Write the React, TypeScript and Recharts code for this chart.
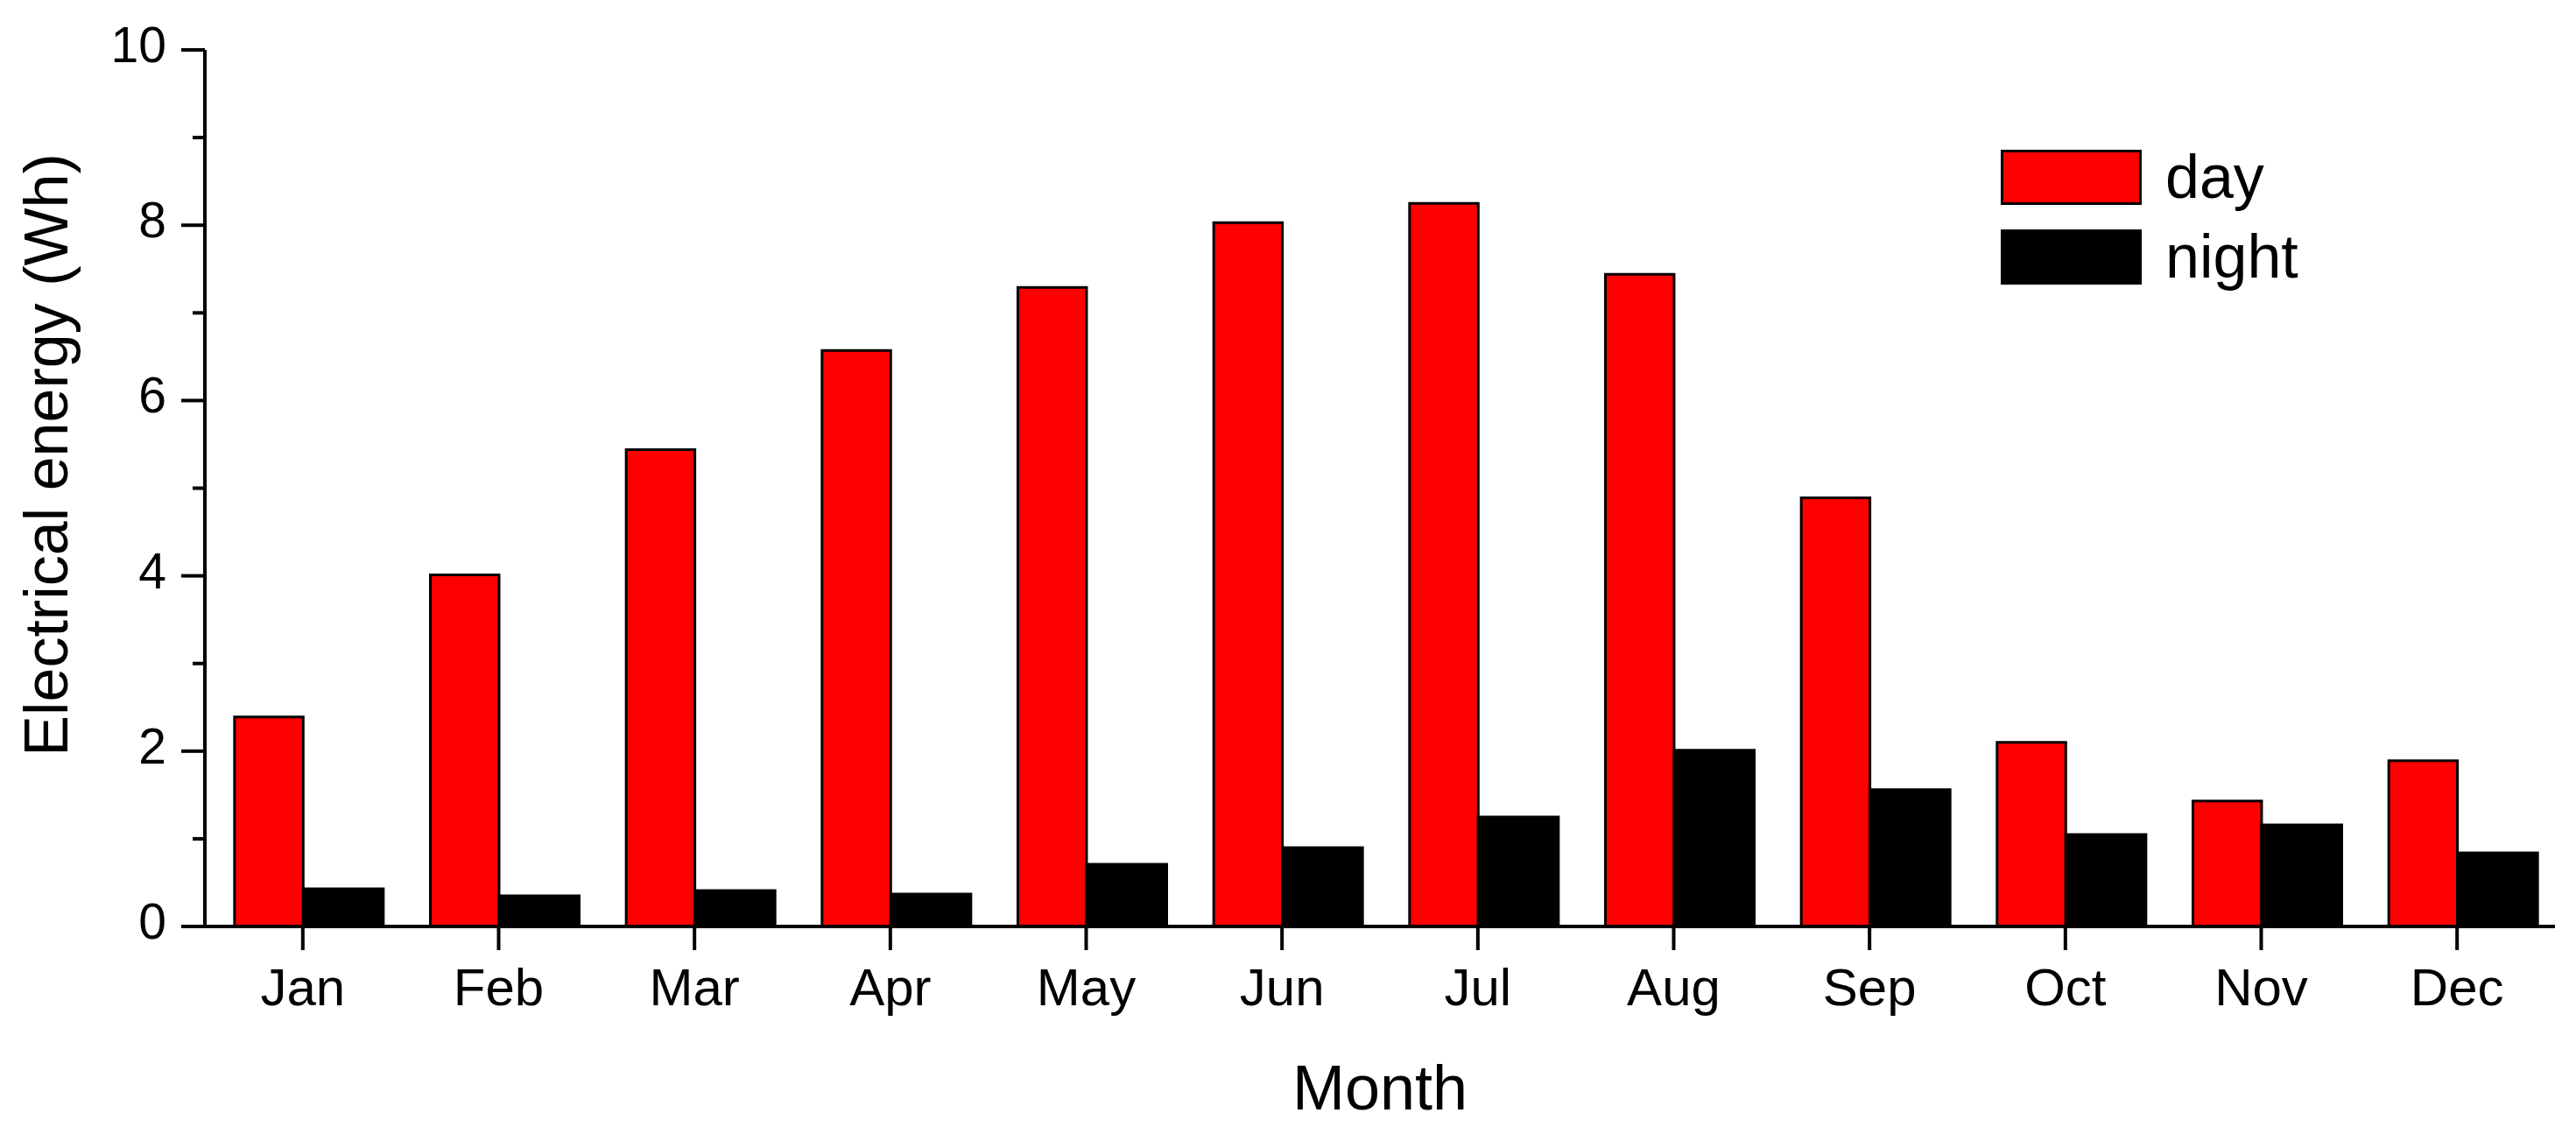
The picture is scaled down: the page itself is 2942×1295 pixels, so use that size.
import React from "react";
import {
  BarChart,
  Bar,
  XAxis,
  YAxis,
  Legend,
  Label,
  Rectangle,
} from "recharts";

const FONT = '"Liberation Sans", Arial, sans-serif';

const MONTHS = ["Jan", "Feb", "Mar", "Apr", "May", "Jun", "Jul", "Aug", "Sep", "Oct", "Nov", "Dec"];
const DAY = [2.39, 4.01, 5.44, 6.57, 7.29, 8.03, 8.25, 7.44, 4.89, 2.1, 1.43, 1.89];
const NIGHT = [0.43, 0.35, 0.41, 0.37, 0.71, 0.9, 1.25, 2.01, 1.56, 1.05, 1.16, 0.84];
const Y_TICKS = [0, 1, 2, 3, 4, 5, 6, 7, 8, 9, 10];

const SERIES_COLORS = { day: "#ff0000", night: "#000000" };

const chartData = MONTHS.map((m, i) => ({ month: m, day: DAY[i], night: NIGHT[i] }));

// the day bars are a bit narrower than the night bars in the original plot
const DAY_SHRINK = 0.077;

function DayShape(props: any) {
  const { x, width } = props;
  const cut = width * DAY_SHRINK;
  return <Rectangle {...props} x={x + cut} width={width - cut} />;
}

function NightShape(props: any) {
  const { width } = props;
  return <Rectangle {...props} width={width * (1 + DAY_SHRINK)} />;
}

function YTick(props: any) {
  const { x, y, payload } = props;
  const major = payload.value % 2 === 0;
  return (
    <g>
      <line x1={x} x2={x - (major ? 27 : 14)} y1={y} y2={y} stroke="#000" strokeWidth={4} />
      {major && (
        <text x={x - 44} y={y + 14} textAnchor="end" fontSize={57} fontFamily={FONT} fill="#000">
          {payload.value}
        </text>
      )}
    </g>
  );
}

function XTick(props: any) {
  const { x, y, payload } = props;
  return (
    <g>
      <line x1={x} x2={x} y1={y} y2={y + 27} stroke="#000" strokeWidth={4} />
      <text x={x} y={y + 90} textAnchor="middle" fontSize={60} fontFamily={FONT} fill="#000">
        {payload.value}
      </text>
    </g>
  );
}

function LegendBox(props: any) {
  const { payload } = props;
  return (
    <div style={{ display: "flex", flexDirection: "column", gap: 28 }}>
      {(payload || []).map((item: any) => (
        <div key={item.value} style={{ display: "flex", alignItems: "flex-start", height: 63 }}>
          <div
            style={{
              width: 161,
              height: 63,
              background: item.color,
              border: "3px solid #000",
              boxSizing: "border-box",
            }}
          />
          <span
            style={{
              marginLeft: 27,
              fontSize: 70,
              lineHeight: "63px",
              fontFamily: FONT,
              color: "#000",
            }}
          >
            {item.value}
          </span>
        </div>
      ))}
    </div>
  );
}

export default function App() {
  return (
    <div style={{ width: 2942, height: 1295, background: "#fff" }}>
      <style>{`body{margin:0;background:#fff;}`}</style>
      <BarChart
        width={2942}
        height={1295}
        data={chartData}
        margin={{ top: 57, right: 24, bottom: 0, left: 84 }}
        barCategoryGap="12.2%"
        barGap={0}
      >
        <XAxis
          dataKey="month"
          height={237}
          axisLine={{ stroke: "#000", strokeWidth: 4 }}
          tickLine={false}
          tickSize={0}
          tickMargin={0}
          tick={<XTick />}
          interval={0}
        >
          <Label
            content={(p: any) => {
              const vb = p.viewBox;
              return (
                <text
                  x={vb.x + vb.width / 2}
                  y={vb.y + 209}
                  textAnchor="middle"
                  fontSize={72}
                  fontFamily={FONT}
                  fill="#000"
                >
                  Month
                </text>
              );
            }}
          />
        </XAxis>
        <YAxis
          width={150}
          domain={[0, 10]}
          ticks={Y_TICKS}
          interval={0}
          axisLine={{ stroke: "#000", strokeWidth: 4 }}
          tickLine={false}
          tickSize={0}
          tickMargin={0}
          tick={<YTick />}
        >
          <Label
            content={(p: any) => {
              const vb = p.viewBox;
              const cx = 77;
              const cy = vb.y + vb.height / 2 - 38;
              return (
                <text
                  x={cx}
                  y={cy}
                  transform={`rotate(-90, ${cx}, ${cy})`}
                  textAnchor="middle"
                  fontSize={70}
                  fontFamily={FONT}
                  fill="#000"
                >
                  Electrical energy (Wh)
                </text>
              );
            }}
          />
        </YAxis>
        <Legend
          layout="vertical"
          align="center"
          verticalAlign="middle"
          content={<LegendBox />}
          wrapperStyle={{ top: 171, left: 2285, width: 400, height: 160 }}
        />
        <Bar
          dataKey="day"
          name="day"
          fill={SERIES_COLORS.day}
          stroke="#000"
          strokeWidth={3}
          shape={<DayShape />}
          isAnimationActive={false}
        />
        <Bar
          dataKey="night"
          name="night"
          fill={SERIES_COLORS.night}
          stroke="#000"
          strokeWidth={3}
          shape={<NightShape />}
          isAnimationActive={false}
        />
      </BarChart>
    </div>
  );
}
